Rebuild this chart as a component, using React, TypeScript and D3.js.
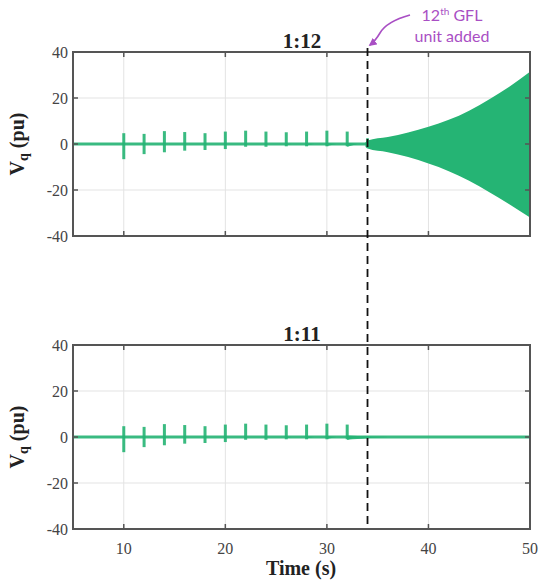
import * as d3 from 'd3';

// spikes when each GFL unit is added
const spikeTimes = [10, 12, 14, 16, 18, 20, 22, 24, 26, 28, 30, 32];
const spikeTop = [4.7, 4.4, 5.6, 5.2, 4.7, 5.4, 5.8, 5.4, 5.1, 5.4, 5.8, 5.4];
const spikeBottom = [-6.6, -4.4, -3.6, -2.9, -2.6, -2.2, -1.2, -1.2, -1.0, -1.0, -1.0, -1.0];
const tailAmp = [0, 0, 0, 0, 0, 0, 0, 0, 0.4, 0.7, 0.9, 1.2];
const tailLen = [0, 0, 0, 0, 0, 0, 0, 0, 0.5, 0.7, 0.9, 1.0];

// 1:12 case - growing oscillation after 12th unit
const growthTime = [33.8, 34, 36, 38, 40, 42, 44, 46, 48, 50];
const growthUpper = [0.8, 1.5, 3, 5, 7.5, 10.5, 14.5, 19.5, 25, 31.4];
const growthLower = [-1.2, -2, -3.6, -5.7, -8.5, -11.8, -16, -21, -26.3, -32];

// 1:11 case - decaying after last spike
const decayTime = [32, 33, 34, 35, 36];
const decayAmp = [1.2, 0.9, 0.5, 0.2, 0];

const xTicks = [10, 20, 30, 40, 50];
const yTicks = [40, 20, 0, -20, -40];
const eventTime = 34;

const green = '#25b474';
const frame = '#555';
const serif = '"Liberation Serif", "DejaVu Serif", serif';

type Panel = { title: string; top: number; growth: boolean };
const panels: Panel[] = [
  { title: '1:12', top: 52, growth: true },
  { title: '1:11', top: 345, growth: false },
];

const left = 73;
const right = 530;
const plotH = 184;

function PanelChart({ title, top, growth }: Panel) {
  const x = d3.scaleLinear().domain([5, 50]).range([left, right]);
  const y = d3.scaleLinear().domain([-40, 40]).range([top + plotH, top]);
  const line = d3.line<[number, number]>().x((d) => x(d[0])).y((d) => y(d[1]));
  const band = d3
    .area<[number, number, number]>()
    .x((d) => x(d[0]))
    .y0((d) => y(d[2]))
    .y1((d) => y(d[1]));

  const growthData = growthTime.map((t, i) => [t, growthUpper[i], growthLower[i]] as [number, number, number]);
  const decayData = decayTime.map((t, i) => [t, decayAmp[i] * 0.5, -decayAmp[i]] as [number, number, number]);

  return (
    <g>
      {/* grid */}
      {xTicks.filter((t) => t < 50).map((t) => (
        <line key={'gx' + t} x1={x(t)} x2={x(t)} y1={y(40)} y2={y(-40)} stroke="#e3e3e3" strokeWidth={1} />
      ))}
      {yTicks.filter((t) => t !== 40 && t !== -40).map((t) => (
        <line key={'gy' + t} x1={x(5)} x2={x(50)} y1={y(t)} y2={y(t)} stroke="#e3e3e3" strokeWidth={1} />
      ))}

      {/* signal */}
      <path d={line([[5, 0], [50, 0]])!} stroke={green} strokeWidth={3} fill="none" opacity={0.9} />
      {spikeTimes.map((t, i) => (
        <path key={'s' + t} d={line([[t, spikeBottom[i]], [t, spikeTop[i]]])!} stroke={green} strokeWidth={3} opacity={0.9} />
      ))}
      {spikeTimes.map((t, i) =>
        tailAmp[i] > 0 ? (
          <path
            key={'t' + t}
            d={band.curve(d3.curveLinear)([[t, tailAmp[i] * 0.4, -tailAmp[i]], [t + tailLen[i], 0, 0]])!}
            fill={green}
            opacity={0.9}
          />
        ) : null
      )}
      {growth ? (
        <>
          <path d={line([[34, -1], [34, 2.5]])!} stroke={green} strokeWidth={2.6} />
          <path d={band.curve(d3.curveMonotoneX)(growthData)!} fill={green} />
        </>
      ) : (
        <path d={band.curve(d3.curveMonotoneX)(decayData)!} fill={green} opacity={0.9} />
      )}

      {/* frame and ticks */}
      <rect x={x(5)} y={y(40)} width={x(50) - x(5)} height={y(-40) - y(40)} fill="none" stroke={frame} strokeWidth={2} />
      {xTicks.filter((t) => t < 50).map((t) => (
        <g key={'tx' + t}>
          <line x1={x(t)} x2={x(t)} y1={y(40)} y2={y(40) + 5} stroke={frame} strokeWidth={1.5} />
          <line x1={x(t)} x2={x(t)} y1={y(-40)} y2={y(-40) - 5} stroke={frame} strokeWidth={1.5} />
        </g>
      ))}
      {yTicks.filter((t) => t !== 40 && t !== -40).map((t) => (
        <g key={'ty' + t}>
          <line x1={x(5)} x2={x(5) + 5} y1={y(t)} y2={y(t)} stroke={frame} strokeWidth={1.5} />
          <line x1={x(50)} x2={x(50) - 5} y1={y(t)} y2={y(t)} stroke={frame} strokeWidth={1.5} />
        </g>
      ))}
      {yTicks.map((t) => (
        <text key={'ly' + t} x={x(5) - 5} y={y(t)} dy="0.35em" textAnchor="end" fontFamily={serif} fontSize={16} fill="#444">
          {t}
        </text>
      ))}
      {!growth &&
        xTicks.map((t) => (
          <text key={'lx' + t} x={x(t)} y={y(-40) + 25} textAnchor="middle" fontFamily={serif} fontSize={16} fill="#444">
            {t}
          </text>
        ))}

      <text x={302} y={top - 4} textAnchor="middle" fontFamily={serif} fontWeight="bold" fontSize={21} fill="#222">
        {title}
      </text>
      <text
        transform={`translate(24, ${top + plotH / 2}) rotate(-90)`}
        textAnchor="middle"
        fontFamily={serif}
        fontWeight="bold"
        fontSize={20}
        fill="#222"
      >
        V<tspan fontSize={14} dy={4}>q</tspan>
        <tspan dy={-4}> (pu)</tspan>
      </text>
    </g>
  );
}

export default function App() {
  const x = d3.scaleLinear().domain([5, 50]).range([left, right]);
  const purple = '#a94fc4';
  return (
    <svg width={550} height={588} style={{ position: 'absolute', left: 0, top: 0, background: '#fff' }}>
      {panels.map((p) => (
        <PanelChart key={p.title} {...p} />
      ))}
      <text x={301} y={575} textAnchor="middle" fontFamily={serif} fontWeight="bold" fontSize={20} fill="#222">
        Time (s)
      </text>

      {/* event marker */}
      <line x1={x(eventTime)} x2={x(eventTime)} y1={48} y2={529} stroke="#111" strokeWidth={1.8} strokeDasharray="8,5" />

      {/* annotation */}
      <defs>
        <marker id="ah" viewBox="0 0 10 10" refX={8} refY={5} markerWidth={5} markerHeight={5} orient="auto">
          <path d="M0,0 L10,5 L0,10 z" fill={purple} />
        </marker>
      </defs>
      <path d="M410,15 C392,20 384,26 380,33 C377,38 374,42 370,45" fill="none" stroke={purple} strokeWidth={1.6} markerEnd="url(#ah)" />
      <text x={452} y={21} textAnchor="middle" fontFamily="Lato, 'Open Sans', sans-serif" fontSize={16} fill={purple}>
        12<tspan fontSize={10} dy={-6}>th</tspan>
        <tspan dy={6}> GFL</tspan>
      </text>
      <text x={452} y={42} textAnchor="middle" fontFamily="Lato, 'Open Sans', sans-serif" fontSize={16} fill={purple}>
        unit added
      </text>
    </svg>
  );
}
